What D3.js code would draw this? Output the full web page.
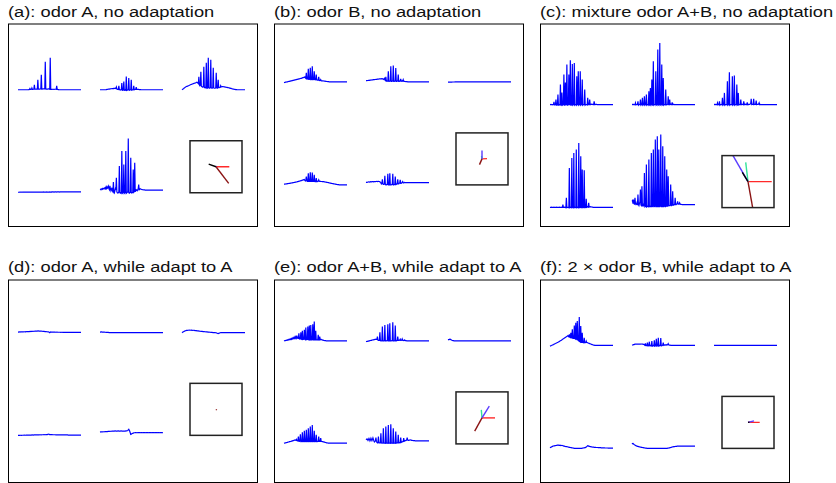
<!DOCTYPE html>
<html>
<head>
<meta charset="utf-8">
<script src="https://cdn.jsdelivr.net/npm/d3@7"></script>
<style>
  html, body { margin: 0; padding: 0; background: #fff; }
  svg { display: block; }
  text { font-family: "Liberation Sans", Arial, Helvetica, sans-serif; }
</style>
</head>
<body>
<svg id="chart" width="836" height="483"></svg>
<script>
// --- data ---
const titles = [
  "(a): odor A, no adaptation",
  "(b): odor B, no adaptation",
  "(c): mixture odor A+B, no adaptation",
  "(d): odor A, while adapt to A",
  "(e): odor A+B, while adapt to A",
  "(f): 2 \u00d7 odor B, while adapt to A"
];

// response traces, 128 samples each
// order in each panel: row1 col1, col2, col3, row2 col1, col2
const tracesA = [
  [0,0,0,0,0,0,0,0,0,0,0,0,0,0,0,0,
   0,0,0,0,0,0,0.2,0.3,1.2,0.3,0.3,0.4,1.8,0.4,0.4,0.5,
   0.5,5,0.5,0.5,0.6,0.6,0.7,0.7,10,0.6,0.6,0.7,0.7,0.8,0.8,15,
   0.7,0.7,0.8,0.8,0.9,0.9,1,28,0.8,0.7,0.7,0.7,0.7,0.8,0.8,0.7,
   0.6,32,0.5,0.4,0.4,0.4,0.5,0.5,0.4,0.4,0.5,0.5,0.5,0.4,4,0.4,
   0.3,0.2,0.1,0,0,0,0,0,0,0,0,0,0,0,0,0,
   0,0,0,0,0,0,0,0,0,0,0,0,0,0,0,0,
   0,0,0,0,0,0,0,0,0,0,0,0,0,0,0,0],
  [0,0,0,0,0,0,0,0,0,0,0,0,0,0.2,0.3,0.4,
   0.5,0.6,0.7,0.7,0.8,0.9,1,1,1.1,1.2,1.1,1.3,1.2,1.4,1.3,1.5,
   1.2,2.7,0.8,0.5,0.6,0.4,4,0.2,0,-0.3,0,0,6.7,-0.4,-0.5,0,
   8.3,-0.5,-0.6,0,-0.4,13.3,-0.6,-0.4,0,0,11.7,-0.5,-0.4,0,0,10,
   -0.5,-0.3,0,0,4,0,0.3,0.5,0.4,2.7,0.4,0.5,0.4,0.3,0.3,0.2,
   0.2,0.1,0.1,0,0,0,0,0,0,0,0,0,0,0,0,0,
   0,0,0,0,0,0,0,0,0,0,0,0,0,0,0,0,
   0,0,0,0,0,0,0,0,0,0,0,0,0,0,0,0],
  [0,0.4,0.8,1.1,1.5,1.9,2.2,2.6,3,3.2,3.4,3.6,3.8,4,4.3,4.5,
   4.8,5,5.2,5.4,5.5,5.8,6,6.2,6.3,6.5,6.7,6.8,7,7.2,7.5,7.3,
   6.5,6,13,5,4,4.5,18,3.5,3,3,2.5,3,23,2.5,2,2.5,
   2,27,2,1.5,2,32,2,1.5,1.5,2,30,2,1.5,1.5,2,22,
   1.8,1.5,1.5,1.5,2,17,1.8,1.5,2,10,2,2,2.2,2.5,4,2.8,
   3,3.1,3.2,3.1,3,2.9,2.8,2.7,2.6,2.5,2.4,2.3,2.2,2.1,2,1.9,
   1.7,1.6,1.4,1.3,1.1,1,0.8,0.7,0.6,0.5,0.4,0.3,0.2,0.2,0.1,0,
   0,0,0,0,0,0,0,0,0,0,0,0,0,0,0,0],
  [0.5,0.5,0.5,0.6,0.5,0.6,0.6,0.6,0.5,0.6,0.6,0.6,0.6,0.6,0.6,0.6,
   0.6,0.6,0.7,0.6,0.6,0.6,0.7,0.6,0.6,0.7,0.6,0.7,0.6,0.7,0.7,0.6,
   0.7,0.7,0.6,0.7,0.7,0.7,0.7,0.6,0.7,0.7,0.7,0.7,0.7,0.7,0.6,0.7,
   0.7,0.7,0.7,0.8,0.7,0.7,0.7,0.7,0.7,0.7,0.8,0.7,0.7,0.7,0.7,0.7,
   0.8,0.7,0.7,0.8,0.7,0.8,0.8,0.7,0.8,0.8,0.7,0.8,0.8,0.8,0.7,0.8,
   0.8,0.8,0.8,0.8,0.7,0.8,0.8,0.8,0.8,0.8,0.8,0.8,0.8,0.8,0.8,0.8,
   0.8,0.8,0.8,0.8,0.8,0.8,0.8,0.8,0.8,0.9,0.8,0.8,0.8,0.8,0.8,0.8,
   0.8,0.8,0.9,0.8,0.8,0.8,0.8,0.8,0.9,0.8,0.8,0.8,0.8,0.8,0.8,0.8],
  [3.3,3.5,3,3.8,4,3.5,4.5,4.2,3.7,4.8,5,4,5.5,4.3,6,4.5,
   5,6.5,4,3,7,4,2,3.5,5,2,1,10.7,1,0,2,4,
   3,15,1,0,-0.3,0,1,26.7,0,-0.5,0,-0.3,41.7,-0.5,0,0,
   28.3,-0.5,0,0,41.7,-0.5,0,0.5,1,54.3,0,-0.5,0,0.5,35,0,
   -0.3,0,0.5,23.3,0.5,1,30,1,2,3,2.5,2,3,4,8.3,3,
   3.5,4,3.8,3.5,3.3,3.2,3,3,2.9,2.8,2.8,2.7,2.7,2.7,2.6,2.7,
   2.7,2.7,2.6,2.7,2.7,2.7,2.6,2.7,2.7,2.7,2.7,2.6,2.7,2.7,2.7,2.7,
   2.6,2.7,2.7,2.7,2.7,2.6,2.7,2.7,2.7,2.7,2.6,2.7,2.7,2.7,2.7,2.7]
];
const tracesB = [
  [-0.7,-0.6,-0.4,-0.3,-0.2,-0.1,0,0.1,0.2,0.4,0.5,0.6,0.7,0.8,1,1.1,
   1.2,1.3,1.5,1.6,1.7,1.8,2,2.1,2.2,2.3,2.5,2.6,2.7,2.8,3,3.1,
   3.2,3.4,3.5,3.6,3.8,4,4.2,4.3,4.5,4.7,5,4,3.5,9,3,2.8,
   3,13,2.5,2.5,2.8,14,2.3,2.3,2.5,15.7,2.3,2.3,2.5,10.7,2.2,2,
   2.2,7.3,2,1.8,1.7,1.8,5,1.5,1.3,1.4,2.3,1.2,1.1,1,1.1,1,
   0.9,0.8,0.7,0.7,0.6,0.5,0.4,0.4,0.3,0.2,0.2,0.1,0,0,0,0,
   0,0,0,0,0,0,0,0,0,0,0,0,0,0,0,0,
   0,0,0,0,0,0,0,0,0,0,0,0,0,0,0,0],
  [1.3,1.2,1.3,1.4,1.4,1.5,1.6,1.5,1.7,1.8,1.7,1.9,2,2,2.1,2.2,
   2.2,2.3,2.4,2.4,2.5,2.6,2.5,2.7,2.8,2.7,2.9,3,3,3.1,3,3.2,
   3.1,3.2,3,2.5,2.8,3.5,2,1.5,5,1,0.7,1,0.8,10.7,0.7,0.5,
   0.8,1,15.7,0.5,0.5,0.8,1,16.3,0.5,0.5,0.8,1,14,0.5,0.5,0.8,
   1,7.3,0.5,0.6,0.8,1,3,0.7,0.8,1,0.8,2.3,0.8,0.6,0.5,0.4,
   0.3,0.3,0.2,0.2,0.1,0,0,0,0,0,0,0,0,0,0,0,
   0,0,0,0,0,0,0,0,0,0,0,0,0,0,0,0,
   0,0,0,0,0,0,0,0,0,0,0,0,0,0,0,0],
  [-0.3,-0.3,-0.3,-0.3,-0.2,-0.2,-0.2,-0.2,-0.2,-0.1,-0.1,-0.1,-0.1,-0.1,0,0,
   0,0,0,0,0,0,0,0,0,0,0,0,0,0,0,0,
   0,0,0,0,0,0,0,0,0,0,0,0,0,0,0,0,
   0,0,0,0,0,0,0,0,0,0,0,0,0,0,0,0,
   0,0,0,0,0,0,0,0,0,0,0,0,0,0,0,0,
   0,0,0,0,0,0,0,0,0,0,0,0,0,0,0,0,
   0,0,0,0,0,0,0,0,0,0,0,0,0,0,0,0,
   0,0,0,0,0,0,0,0,0,0,0,0,0,0,0,0],
  [0.7,0.7,0.8,0.9,1,1,1.1,1.2,1.3,1.4,1.5,1.5,1.6,1.7,1.8,1.9,
   2,2.1,2.2,2.3,2.4,2.5,2.6,2.7,2.8,2.9,3,3.2,3.3,3.5,3.6,3.8,
   3.9,4,4.2,4.3,4.5,4.7,4.8,5,5.3,5.5,4.5,4,5,8.3,4,3.5,
   3.5,11.7,3.5,3.5,3.5,12.7,3.5,3.4,3.5,12.3,3.5,3.4,3.5,10,3.4,3.3,
   3.3,6.7,3.3,3.3,3.5,3.8,5,3.6,3.5,3.6,3.5,3.4,3.4,3.3,3.3,3.3,
   3.2,3.1,3,2.9,2.8,2.7,2.6,2.5,2.4,2.3,2.2,2.1,1.9,1.8,1.7,1.6,
   1.5,1.4,1.3,1.2,1.1,1,0.9,0.8,0.7,0.6,0.5,0.4,0.3,0.3,0.2,0.1,
   0.1,0,0,0,0,0,0,0,0,0,0,0,0,0,0,0],
  [2.7,2.6,2.5,2.7,2.9,3,2.9,2.8,3,3.2,3.1,3,3.2,3.3,3.2,3.1,
   3.3,3.4,3.3,3.2,3.4,3.5,3.4,3.3,3.5,3.6,3.4,3.3,3.2,2.5,2,1,
   1.5,5.7,1,0.5,0.5,1,9,0.5,0,0,0.5,0.5,11,0,0,0,
   11.7,0,0,0,0.5,0.5,11,0,0,0.3,0.5,8.3,0.3,0.5,1,1,
   5.7,1,1,1.5,2,5,1.5,1.5,2,2.5,3.3,2,2,2.3,2.5,2.3,
   2.3,2.3,2.2,2.3,2.3,2.3,2.4,2.3,2.3,2.3,2.2,2.3,2.3,2.3,2.3,2.4,
   2.3,2.3,2.3,2.2,2.3,2.3,2.3,2.3,2.4,2.3,2.3,2.3,2.3,2.2,2.3,2.3,
   2.3,2.3,2.4,2.3,2.3,2.3,2.3,2.2,2.3,2.3,2.3,2.3,2.3,2.3,2.3,2.3]
];
const tracesC = [
  [0,0,0.2,0,0,-0.3,0,0,2.7,-0.3,-0.5,0,5,-0.5,-0.7,0,
   10,-0.5,-0.7,0,0,20,-0.5,-0.5,12,-0.5,0,0,30,-0.5,-0.5,22,
   0,0,40,-0.5,-0.5,0,30,0,0,44.3,-0.5,-0.5,0,40.7,-0.5,0,
   0,41.7,-0.5,0,0,-0.5,28.3,0,0,33.3,-0.5,0,0,33.3,-0.5,0,
   0,25,-0.5,0,0,0,15,-0.5,0,0,0,-0.3,6.7,0,0,0,
   5,0,0,0.3,0.5,0.3,0.2,0,0,3.3,0,0,0.2,0.3,0.2,0,
   0,0,0,0,0,0,0,0,0,0,0,0,0,0,0,0,
   0,0,0,0,0,0,0,0,0,0,0,0,0,0,0,0],
  [0,0,0.3,0,-0.3,0,0,1.7,-0.3,0,0,0.3,3.3,-0.5,0,0,
   0.3,5,-0.5,0,0,6.7,-0.5,0,0,8.3,-0.5,0,0,10,-0.5,0,
   0,-0.3,13.3,-0.5,0,16.7,-0.5,0,25,-0.5,0,43.3,-0.5,0,0,0,
   33.3,-0.5,0,0,55,-0.5,0,0,61.7,-0.5,0,0,40,-0.5,0,26.7,
   -0.5,0,0,0,15,-0.3,0,0,0.5,8.3,0,0,5,0,0.3,0,
   0,2.3,0,0,0.3,0,0,0,0,0,0,0,0,0,0,0,
   0,0,0,0,0,0,0,0,0,0,0,0,0,0,0,0,
   0,0,0,0,0,0,0,0,0,0,0,0,0,0,0,0],
  [0,0,0.3,0,0,0,0,1.7,-0.3,0,0,3.3,-0.5,0,0,0,
   0,6.7,-0.5,0,0,11.7,-0.5,0,0,0,0,23.3,-0.5,0,0,32.3,
   -0.5,0,0,0,0,28.3,-0.5,0,0,29,-0.5,0,0,0,20,-0.5,
   0,11.7,-0.3,0,0,0,5,0,0,0.3,0.2,0,3.3,0,0.2,0,
   0.3,0,0,2.3,0,0.2,0,0.3,0.2,0.5,1,5.7,0,0.3,0.5,0.3,
   5.7,0,0.3,0.5,0.3,4,0,0.3,0.2,0.2,0.5,1.7,0,0.2,0,0,
   0,0,0,0,0,0,0,0,0,0,0,0,0,0,0,0,
   0,0,0,0,0,0,0,0,0,0,0,0,0,0,0,0],
  [0.3,0.2,0.3,0.4,0.3,0.2,0.3,0.3,0.4,0.3,0.2,0.3,0.3,0.4,0.3,0.3,
   0.2,0.3,0.3,0.4,0.3,0.3,0.2,0.3,0.4,0.3,3,0.2,0.3,0.5,0.3,0,
   0,9.7,0,0.2,0.3,0,0,39.7,0,0.3,0,0,49.7,0,0.3,0,
   54.7,0,0,0.3,0,58,0,0,0.3,0,64.7,0,0,0.3,51.3,0,
   0,38,0,0,0.3,37.3,0,0,0.3,8.7,0.3,0.5,0.8,0.5,4.7,0.5,
   0.8,1,0.8,0.7,0.6,0.5,0.4,0.3,0.3,0.3,0.3,0.3,0.3,0.3,0.3,0.3,
   0.3,0.3,0.3,0.3,0.3,0.3,0.3,0.3,0.3,0.3,0.3,0.3,0.3,0.3,0.3,0.3,
   0.3,0.3,0.3,0.3,0.3,0.3,0.3,0.3,0.3,0.3,0.3,0.3,0.3,0.3,0.3,0.3],
  [6.3,7,4,8,4.5,3,9.7,4,3,3.5,5,2.5,13,3,2,4,
   6,18,2.5,2,21.3,2,1.5,3,1.5,34.7,1,1.5,1,43,1,1.5,
   1,1,48,1,1.5,1,1,54.7,1,1,1.5,58,1,1,1.5,68,
   1,1,1,71.3,1,1,58,1,1,1.5,73,1,1,1,61.3,1,
   1,1.5,51.3,1,1,1.5,38,1.5,1.5,31.3,2,2,2,2.5,23,2,
   2,2.5,16.3,2.5,2.5,3,3,9.7,3,3,3.5,4,6.3,3.5,3.5,3.5,
   4.7,3.5,3.3,3.2,3.1,3,3,3,3,3,3,3,3,3,3,3,
   3,3,3,3,3,3,3,3,3,3,3,3,3,3,3,3]
];
const tracesD = [
  [0.3,0.3,0.4,0.4,0.3,0.4,0.5,0.5,0.4,0.4,0.5,0.5,0.6,0.6,0.5,0.5,
   0.7,0.7,0.6,0.7,0.8,0.8,0.7,0.8,0.9,0.9,0.8,0.9,1,1,1.1,1.1,
   1,1.1,1.2,1.2,1.3,1.3,1.2,1.3,1.4,1.4,1.3,1.3,1.2,1.2,1.3,1.3,
   1.1,1.1,1,1,0.9,0.9,0.8,0.8,0.7,0.7,0.6,0.6,0.5,0.5,0.3,0,
   -0.3,0.1,0.4,0.3,0.2,0.2,0.3,0.3,0.2,0.2,0.2,0.2,0.1,0.1,0.2,0.2,
   0.1,0.1,0.1,0.1,0.1,0.1,0,0,0.1,0.1,0,0,0,0,0,0,
   0,0,0,0,0,0,0,0,0,0,0,0,0,0,0,0,
   0,0,0,0,0,0,0,0,0,0,0,0,0,0,0,0],
  [0.3,0.3,0.4,0.4,0.3,0.3,0.2,0.2,0.2,0.2,0.1,0.1,0,0,0,0,
   -0.1,-0.1,-0.2,-0.2,-0.3,-0.3,-0.2,-0.2,-0.3,-0.3,-0.3,-0.3,-0.2,-0.2,-0.3,-0.3,
   -0.3,-0.3,-0.3,-0.3,-0.2,-0.3,-0.3,-0.3,-0.3,-0.3,-0.3,-0.2,-0.3,-0.3,-0.3,-0.3,
   -0.3,-0.3,-0.3,-0.3,-0.3,-0.3,-0.2,-0.3,-0.3,-0.3,-0.3,-0.3,-0.3,-0.3,-0.3,-0.3,
   -0.3,-0.2,-0.3,-0.3,-0.3,-0.3,-0.3,-0.3,-0.3,-0.3,-0.2,-0.3,-0.3,-0.3,-0.3,-0.3,
   -0.3,-0.3,-0.3,-0.3,-0.3,-0.2,-0.3,-0.3,-0.3,-0.3,-0.3,-0.3,-0.3,-0.3,-0.3,-0.3,
   -0.3,-0.3,-0.3,-0.2,-0.3,-0.3,-0.3,-0.3,-0.3,-0.3,-0.3,-0.3,-0.3,-0.3,-0.2,-0.3,
   -0.3,-0.3,-0.3,-0.3,-0.3,-0.3,-0.3,-0.3,-0.3,-0.3,-0.3,-0.3,-0.3,-0.3,-0.3,-0.3],
  [-0.3,0,0.3,0.6,0.9,1.2,1.4,1.6,1.8,1.9,2,2,2.1,2.1,2.2,2.2,
   2.1,2.1,2.2,2.2,2,2,2.1,2.1,1.9,1.9,1.8,1.8,1.7,1.7,1.5,1.5,
   1.4,1.4,1.3,1.3,1.1,1.1,1,1,0.9,0.9,0.8,0.8,0.7,0.7,0.6,0.6,
   0.5,0.5,0.4,0.4,0.3,0.3,0.2,0.2,0.1,0.1,0,0,-0.1,-0.1,-0.2,-0.2,
   -0.3,-0.3,-0.3,-0.3,-0.4,-0.5,-0.7,-0.9,-1.1,-1.3,-1,-0.8,-0.6,-0.4,-0.3,-0.3,
   -0.3,-0.3,-0.3,-0.3,-0.3,-0.3,-0.3,-0.3,-0.3,-0.3,-0.3,-0.3,-0.3,-0.3,-0.3,-0.3,
   -0.3,-0.3,-0.3,-0.3,-0.3,-0.3,-0.3,-0.3,-0.3,-0.3,-0.3,-0.3,-0.3,-0.3,-0.3,-0.3,
   -0.3,-0.3,-0.3,-0.3,-0.3,-0.3,-0.3,-0.3,-0.3,-0.3,-0.3,-0.3,-0.3,-0.3,-0.3,-0.3],
  [0,0,0,0,0.1,0.1,0,0,0.1,0.1,0.1,0.1,0.2,0.2,0.1,0.1,
   0.2,0.2,0.2,0.2,0.3,0.3,0.2,0.2,0.3,0.3,0.3,0.3,0.4,0.4,0.3,0.3,
   0.4,0.4,0.4,0.4,0.5,0.5,0.4,0.4,0.5,0.5,0.5,0.5,0.6,0.6,0.5,0.5,
   0.6,0.6,0.6,0.6,0.7,0.7,0.6,0.6,0.7,0.7,0.8,0.8,1,1.1,1.3,1,
   0.8,0.8,0.7,0.7,0.7,0.7,0.6,0.6,0.6,0.6,0.6,0.6,0.5,0.5,0.5,0.5,
   0.5,0.5,0.5,0.5,0.5,0.5,0.4,0.4,0.4,0.4,0.4,0.4,0.4,0.4,0.4,0.4,
   0.4,0.4,0.4,0.4,0.4,0.3,0.3,0.3,0.3,0.3,0.3,0.3,0.3,0.3,0.3,0.3,
   0.3,0.3,0.3,0.3,0.3,0.3,0.3,0.3,0.3,0.3,0.3,0.3,0.3,0.3,0.3,0.3],
  [3.3,3.4,3.5,3.5,3.4,3.5,3.6,3.6,3.5,3.6,3.7,3.7,3.8,3.8,3.7,3.8,
   3.9,3.9,4,4,4.1,4.1,4,4.1,4.2,4.2,4.3,4.3,4.2,4.3,4.4,4.4,
   4.3,4.3,4.3,4.3,4.4,4.4,4.2,4.3,4.3,4.3,4.4,4.4,4.3,4.3,4.2,4.2,
   4.3,4.3,4.2,4.2,4.4,4.4,4.5,4.6,5,5.5,6,5,4,2.5,1,1.2,
   1.5,1.8,2,2.2,2.5,2.6,2.6,2.7,2.7,2.7,2.6,2.6,2.7,2.7,2.7,2.7,
   2.7,2.6,2.7,2.7,2.7,2.7,2.6,2.7,2.7,2.7,2.7,2.7,2.6,2.7,2.7,2.7,
   2.7,2.7,2.6,2.7,2.7,2.7,2.7,2.6,2.7,2.7,2.7,2.7,2.7,2.6,2.7,2.7,
   2.7,2.7,2.7,2.6,2.7,2.7,2.7,2.7,2.6,2.7,2.7,2.7,2.7,2.7,2.6,2.7]
];
const tracesE = [
  [0,0.2,0.4,0.3,0.6,0.5,0.9,0.7,1.2,0.9,1.5,1.2,1.8,1.4,2.2,1.6,
   2.6,2,3,2.3,3.3,2.5,3.8,2.8,4.2,3,5.3,3,2.5,2.5,7.7,2,
   1.8,2,8.7,1.8,1.5,10,1.5,1.5,2,11,1.5,1.2,13.3,1.2,1.2,1.5,
   14.3,1.2,1,15.3,1,1,16,1,1,1.2,16.7,1,1,19.3,1,1,
   10,1,1,1.2,1,6,1,1,4.3,1.2,1.5,1.5,1.2,1,0.8,0.7,
   0.5,0.4,0.3,0.2,0.2,0.1,0,0,0,0,0,0,0,0,0,0,
   0,0,0,0,0,0,0,0,0,0,0,0,0,0,0,0,
   0,0,0,0,0,0,0,0,0,0,0,0,0,0,0,0],
  [-0.7,-0.6,-0.5,-0.4,-0.3,-0.2,0,0.1,0.3,0.4,0.5,0.6,0.8,0.9,1,1.1,
   1.2,1.3,1.5,1.6,1.7,1.6,1.5,4.3,0.8,0.5,0.5,0.5,8.7,0.3,0,0,
   0.3,14.3,0,0,0,0.3,16,0,0,0,0.3,0.3,16.7,0,0,0,
   17.7,0,0,0,0.3,0.3,18.7,0,0,0,0.3,15.3,0,0,0.3,0.5,
   4.3,0.5,0.5,0.5,0.8,1.7,0.5,0.5,0.8,2,0.5,0.3,0.5,0.5,1,0.3,
   0.2,0.2,0.1,0,0,0,0,0,0,0,0,0,0,0,0,0,
   0,0,0,0,0,0,0,0,0,0,0,0,0,0,0,0,
   0,0,0,0,0,0,0,0,0,0,0,0,0,0,0,0],
  [1,1.2,1.3,1.5,1.7,1.5,1.2,0.9,0.6,0.4,0.3,0.2,0.1,0.1,0,0,
   0,0,0,0,0,0,0,0,0,0,0,0,0,0,0,0,
   0,0,0,0,0,0,0,0,0,0,0,0,0,0,0,0,
   0,0,0,0,0,0,0,0,0,0,0,0,0,0,0,0,
   0,0,0,0,0,0,0,0,0,0,0,0,0,0,0,0,
   0,0,0,0,0,0,0,0,0,0,0,0,0,0,0,0,
   0,0,0,0,0,0,0,0,0,0,0,0,0,0,0,0,
   0,0,0,0,0,0,0,0,0,0,0,0,0,0,0,0],
  [0.7,0.8,0.9,1,1.2,1.3,1.4,1.5,1.8,1.9,2,2.2,2.3,2.4,2.5,2.7,
   2.8,3,3.2,3.3,3.5,3.7,4,3.8,3.5,4.5,3.5,3,3.5,7.3,2.5,2.5,
   3,9.7,2.3,2.3,2.5,11.7,2.3,2.3,2.5,13,2.3,2.3,2.5,14,2.3,2.3,
   2.5,15.7,2.3,2.3,2.5,17.3,2.3,2.3,2.5,19,2.3,2.3,2.5,13,2.3,2.3,
   2.5,9,2.3,2.3,2.5,2.5,7.3,2.5,2.5,2.5,5.7,2.5,2.4,2.3,2.2,2.1,
   2,1.8,1.7,1.5,1.4,1.2,1.1,1,0.9,0.8,0.8,0.7,0.7,0.7,0.7,0.7,
   0.7,0.7,0.7,0.7,0.7,0.7,0.7,0.7,0.7,0.7,0.7,0.7,0.7,0.7,0.7,0.7,
   0.7,0.7,0.7,0.7,0.7,0.7,0.7,0.7,0.7,0.7,0.7,0.7,0.7,0.7,0.7,0.7],
  [4,4.5,5,4.5,3.5,4.5,5.5,4.5,3,4,5.7,4.5,3.3,4.5,6,4.5,
   3,2,2.5,3,6.3,2.5,1.5,1,1.5,7.3,1,1,1,1,10.7,1,
   0.7,0.7,1,15.7,0.7,0.7,0.8,0.7,17.3,0.7,0.7,0.8,0.7,19,0.7,0.7,
   0.8,0.7,19.7,0.7,0.7,0.8,0.7,15.7,0.7,0.7,1,0.8,12.3,0.8,1,1,
   1,9,1,1,1.2,1.3,6.3,1.5,1.8,2,2.3,2.5,5.7,2.7,3,3.2,
   3.3,3.5,4,6.3,4,3.5,3.5,3.7,3.8,3.9,4,3.8,3.6,3.5,3.4,3.3,
   3.3,3.2,3.2,3.1,3,3,3,3,3,3,3,3,3,3,3,3,
   3,3,3,3,3,3,3,3,3,3,3,3,3,3,3,3]
];
const tracesF = [
  [-0.7,-0.5,-0.3,-0.1,0.2,0.4,0.6,0.8,1.1,1.4,1.7,1.9,2.2,2.4,2.7,2.9,
   3.1,3.4,3.7,4,4.3,4.6,4.9,5.2,5.6,5.9,6.3,6.6,7,7.3,7.7,8,
   8.3,8.7,9,9.3,9.7,9,8.5,11,8.5,8,12.7,8,7.5,16,7.5,7,
   7,20,7,6.5,22.7,6.5,6,24.3,6,5,4.5,28.3,4,3.5,19.3,3,
   3,12.7,3,2.8,2.7,7.7,2.7,2.7,2.8,4.3,3,2.8,2.6,2.4,2.2,2,
   1.8,1.6,1.4,1.2,1,0.8,0.6,0.4,0.3,0.2,0.1,0,0,0,0,0,
   0,0,0,0,0,0,0,0,0,0,0,0,0,0,0,0,
   0,0,0,0,0,0,0,0,0,0,0,0,0,0,0,0],
  [0.3,0.4,0.5,0.7,0.8,1,1.2,1.3,1.3,1.2,1.2,1.3,1.4,1.3,1.3,1.2,
   1.2,1.3,1.4,1.4,1.3,1.2,1.2,1.1,1,0.5,0,2,0,-0.3,-0.3,2.7,
   -0.5,-0.5,0,3.7,-0.5,-0.5,0,-0.3,4.3,-0.7,-0.5,0,-0.3,5,-0.7,-0.5,
   0,6.7,-0.7,-0.5,0,7.7,-0.7,-0.5,0,0,7.3,-0.5,-0.3,0,0.5,2.7,
   0,0.3,0.5,0.3,0.5,0.7,0.3,0.5,0.8,1.7,0.5,0.3,0.2,0.2,0.1,0.1,
   0,0,0,0,0,0,0,0,0,0,0,0,0,0,0,0,
   0,0,0,0,0,0,0,0,0,0,0,0,0,0,0,0,
   0,0,0,0,0,0,0,0,0,0,0,0,0,0,0,0],
  [0,0,0,0,0,0,0,0,0,0,0,0,0,0,0,0,
   0,0,0,0,0,0,0,0,0,0,0,0,0,0,0,0,
   0,0,0,0,0,0,0,0,0,0,0,0,0,0,0,0,
   0,0,0,0,0,0,0,0,0,0,0,0,0,0,0,0,
   0,0,0,0,0,0,0,0,0,0,0,0,0,0,0,0,
   0,0,0,0,0,0,0,0,0,0,0,0,0,0,0,0,
   0,0,0,0,0,0,0,0,0,0,0,0,0,0,0,0,
   0,0,0,0,0,0,0,0,0,0,0,0,0,0,0,0],
  [0.7,1,1.2,1.5,1.8,2,2.3,2.4,2.5,2.6,2.7,2.8,2.9,3,3.1,3.2,
   3.3,3.2,3,3.1,3.2,3,2.8,2.9,3,2.9,2.7,2.5,2.3,2.2,2.1,1.9,
   1.7,1.8,1.8,1.6,1.4,1.3,1.2,1.1,1,0.9,0.8,0.7,0.6,0.5,0.4,0.3,
   0.2,0.1,0,0,0,0.1,0.1,0,0,0,0,0.1,0.1,0,0,0.1,
   0.1,0.2,0.3,0.4,0.5,0.6,0.7,0.8,1,1.3,1.8,2.3,2.7,2.5,2.3,2.1,
   2,1.8,1.7,1.6,1.5,1.4,1.3,1.2,1.2,1.1,1.1,1,1,0.9,0.9,0.9,
   0.9,0.8,0.8,0.8,0.7,0.7,0.7,0.6,0.6,0.6,0.6,0.5,0.5,0.5,0.5,0.4,
   0.4,0.4,0.4,0.4,0.4,0.3,0.3,0.3,0.3,0.3,0.3,0.3,0.3,0.3,0.3,0.3],
  [4.3,4.8,5,4.5,4,3.7,3.3,3,2.7,2.5,2.3,2.1,2,1.8,1.7,1.5,
   1.4,1.3,1.2,1.1,1,0.9,0.8,0.7,0.6,0.5,0.4,0.3,0.2,0.2,0.1,0.1,
   0,0,0,0,0.1,0,0,0,0,0,0,0.1,0,0,0,0,
   0,0,0.1,0,0,0,0,0,0,0.1,0,0,0,0,0,0,
   0.1,0,0,0,0,0,0,0.1,0.2,0.3,0.4,0.5,0.6,0.8,0.9,1.1,
   1.2,1.4,1.5,1.6,1.7,1.8,1.8,1.9,2,2.1,2.1,2.2,2.2,2.3,2.3,2.3,
   2.3,2.3,2.3,2.3,2.3,2.3,2.3,2.3,2.3,2.3,2.3,2.3,2.3,2.3,2.3,2.3,
   2.3,2.3,2.3,2.3,2.3,2.3,2.3,2.3,2.3,2.3,2.3,2.3,2.3,2.3,2.3,2.3]
];

// inset vectors [dx, dy], one per colour
const vectorColors = ["#ff2a2a", "#33e39a", "#5a3cff", "#000000", "#8b1414"];
const vectorsA = [[13.3, 0], [0, 0], [0.8, 0.2], [-7.3, 2.7], [12.7, -16.7]];
const vectorsB = [[5, 0.3], [-0.5, 3], [0, 8.5], [0, 0], [-2.5, -5.7]];
const vectorsC = [[23.7, 0], [-2.3, 19.3], [-15, 26], [-5.7, 9.3], [5, -28]];
const vectorsD = [[0, 0], [0, 0], [0, 0], [0, 0], [0.7, -0.8]];
const vectorsE = [[13, 0], [-0.7, 8], [7.3, 11.7], [0, 0], [-7.3, -13.3]];
const vectorsF = [[11.7, 0], [0, 0], [6, 1.5], [1.5, 0.3], [0, 0]];

const allTraces = [tracesA, tracesB, tracesC, tracesD, tracesE, tracesF];
const allVectors = [vectorsA, vectorsB, vectorsC, vectorsD, vectorsE, vectorsF];

// --- layout ---
const svg = d3.select("#chart");
const panelX = [8, 274, 540], panelY = [24, 280], titleY = [16.5, 272], rowShift = [0, 1.5];
const panelW = 249, panelH = 202.5;
const traceW = 63, colPitch = 82, colStart = 10, rowGap = 103, insetSize = 52;

const x = d3.scaleLinear().domain([0, 127]).range([0, traceW]);
const y = d3.scaleLinear().domain([0, 100]).range([0, -100]);
const line = d3.line().x((d, i) => x(i)).y(d => y(d));
const vx = d3.scaleLinear().domain([-30, 30]).range([-30, 30]);
const vy = d3.scaleLinear().domain([-30, 30]).range([30, -30]);

allTraces.forEach((traces, p) => {
  const r = Math.floor(p / 3);
  const px = panelX[p % 3], py = panelY[r];
  const g = svg.append("g").attr("transform", `translate(${px},${py})`);

  svg.append("text")
    .attr("transform", `translate(${px},${titleY[r]}) scale(1.18,1)`)
    .attr("font-size", 15.5)
    .attr("fill", "#111")
    .text(titles[p]);

  g.append("rect")
    .attr("x", 0.5).attr("y", 0).attr("width", panelW).attr("height", panelH)
    .attr("fill", "none").attr("stroke", "#000").attr("stroke-width", 1);

  // centre the content vertically in the panel
  const top = Math.max(d3.max(traces.slice(0, 3).flat()), d3.max(traces.slice(3).flat()) - rowGap);
  const base1 = panelH / 2 - (rowGap - top) / 2 + rowShift[r];

  traces.forEach((tr, i) => {
    const row = i < 3 ? 0 : 1, col = i % 3;
    g.append("path")
      .attr("transform", `translate(${colStart + col * colPitch},${base1 + row * rowGap})`)
      .attr("d", line(tr))
      .attr("fill", "none")
      .attr("stroke", "#0000ff")
      .attr("stroke-width", 1.2);
  });

  // inset with vector plot
  const ix = colStart + 2 * colPitch + 8, iy = base1 + rowGap - insetSize;
  const clipId = "clip" + p;
  g.append("clipPath").attr("id", clipId)
    .append("rect").attr("x", ix).attr("y", iy).attr("width", insetSize).attr("height", insetSize);
  const inset = g.append("g").attr("clip-path", `url(#${clipId})`)
    .append("g").attr("transform", `translate(${ix + insetSize / 2},${iy + insetSize / 2})`);
  allVectors[p].forEach((v, k) => {
    if (v[0] === 0 && v[1] === 0) return;
    inset.append("line")
      .attr("x1", vx(0)).attr("y1", vy(0))
      .attr("x2", vx(v[0])).attr("y2", vy(v[1]))
      .attr("stroke", vectorColors[k])
      .attr("stroke-width", 1.4);
  });
  g.append("rect")
    .attr("x", ix).attr("y", iy).attr("width", insetSize).attr("height", insetSize)
    .attr("fill", "none").attr("stroke", "#222").attr("stroke-width", 1.5);
});
</script>
</body>
</html>
